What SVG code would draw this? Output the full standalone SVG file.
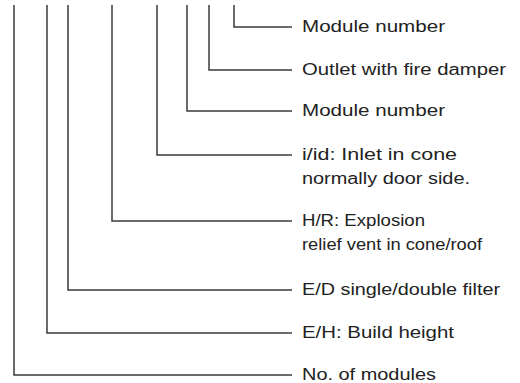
<svg xmlns="http://www.w3.org/2000/svg" width="520" height="383" viewBox="0 0 520 383">
<style>
.c{fill:none;stroke:#3a3a3a;stroke-width:1.5;stroke-linejoin:miter}
.t{font-family:"Liberation Sans","DejaVu Sans",sans-serif;font-size:16px;fill:#222}
</style>
<rect width="520" height="383" fill="#fff"/>
<g id="connectors">
<polyline class="c" points="234,5 234,27 292,27"/>
<polyline class="c" points="209,5 209,70 292,70"/>
<polyline class="c" points="187,5 187,111 292,111"/>
<polyline class="c" points="157,5 157,155 292,155"/>
<polyline class="c" points="112,5 112,221 292,221"/>
<polyline class="c" points="68,5 68,290 292,290"/>
<polyline class="c" points="47,5 47,333 292,333"/>
<polyline class="c" points="14,5 14,375 292,375"/>
</g>
<g id="label-module-number-1"><text class="t" x="302" y="32" textLength="143" lengthAdjust="spacingAndGlyphs">Module number</text></g>
<g id="label-outlet"><text class="t" x="302" y="75" textLength="204" lengthAdjust="spacingAndGlyphs">Outlet with fire damper</text></g>
<g id="label-module-number-2"><text class="t" x="302" y="116" textLength="143" lengthAdjust="spacingAndGlyphs">Module number</text></g>
<g id="label-inlet"><text class="t" x="302" y="160" textLength="155" lengthAdjust="spacingAndGlyphs">i/id: Inlet in cone</text><text class="t" x="302" y="184" textLength="168" lengthAdjust="spacingAndGlyphs">normally door side.</text></g>
<g id="label-explosion"><text class="t" x="302" y="226" textLength="123" lengthAdjust="spacingAndGlyphs">H/R: Explosion</text><text class="t" x="302" y="250" textLength="180" lengthAdjust="spacingAndGlyphs">relief vent in cone/roof</text></g>
<g id="label-filter"><text class="t" x="302" y="295" textLength="198" lengthAdjust="spacingAndGlyphs">E/D single/double filter</text></g>
<g id="label-height"><text class="t" x="302" y="338" textLength="152" lengthAdjust="spacingAndGlyphs">E/H: Build height</text></g>
<g id="label-modules"><text class="t" x="302" y="380" textLength="134" lengthAdjust="spacingAndGlyphs">No. of modules</text></g>
</svg>
